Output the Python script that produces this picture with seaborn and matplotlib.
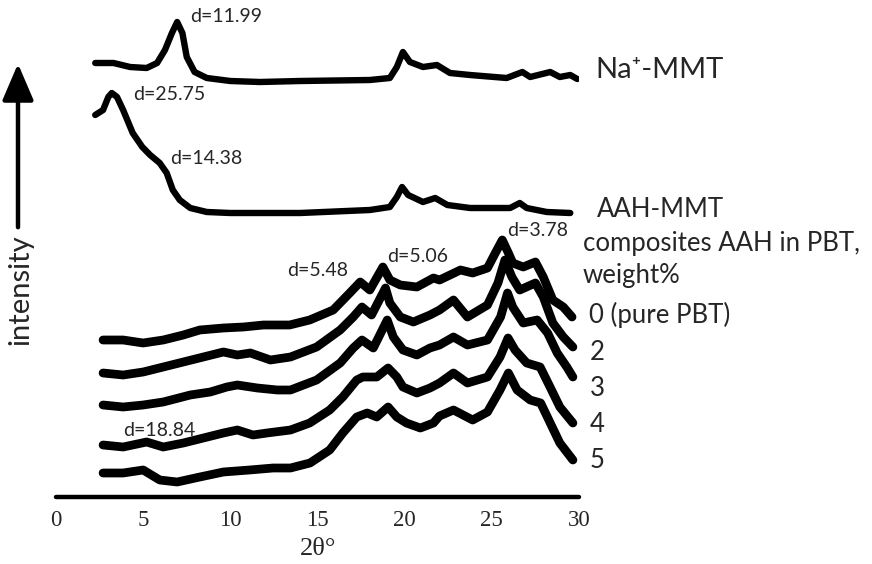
import numpy as np
import pandas as pd
import matplotlib
matplotlib.use("Agg")
import matplotlib.pyplot as plt
import seaborn as sns

# ---- XRD patterns (2θ in degrees, intensity in arbitrary stacked units) ----
na_x = [2.25, 3.3, 4.25, 5.2, 5.8, 6.25, 6.65, 6.95, 7.25, 7.5, 7.95, 8.65, 10.0, 11.7,
        14.0, 18.0, 19.15, 19.55, 19.9, 20.3, 21.05, 21.85, 22.6, 23.75, 25.85, 26.75,
        27.2, 28.35, 28.9, 29.5, 29.9]
na_y = [437, 437, 433, 432, 437, 450, 467, 478, 467, 443, 428, 422, 419, 418,
        419, 420, 422, 433, 448, 438, 433, 435, 427, 425, 422, 428,
        423, 428, 423, 425, 421]

aah_x = [2.25, 2.7, 3.0, 3.2, 3.5, 3.85, 4.4, 4.95, 5.4, 5.95, 6.35, 6.7, 7.1, 7.7, 8.65,
         10.0, 14.0, 18.0, 19.15, 19.55, 19.85, 20.2, 21.05, 21.75, 22.45, 23.75, 26.05,
         26.6, 27.0, 28.15, 29.5]
aah_y = [385, 390, 403, 407, 403, 390, 367, 353, 345, 337, 327, 310, 300, 292, 288,
         287, 287, 290, 293, 303, 313, 305, 298, 302, 295, 292, 292,
         297, 292, 288, 287]

pbt0_x = [2.7, 3.85, 5.0, 6.15, 7.3, 8.25, 9.6, 10.75, 11.9, 13.4, 14.55, 15.9, 16.85,
          17.45, 18.0, 18.75, 19.15, 19.75, 20.7, 21.65, 22.0, 23.2, 23.9, 24.75, 25.2,
          25.6, 25.95, 26.2, 26.8, 27.5, 27.95, 28.5, 29.1, 29.6]
pbt0_y = [160, 160, 157, 160, 165, 170, 172, 173, 175, 175, 180, 190, 207,
          218, 210, 233, 220, 215, 213, 222, 220, 230, 227, 232, 247,
          260, 247, 237, 233, 238, 223, 200, 193, 183]

pbt2_x = [2.7, 3.85, 5.0, 6.15, 7.3, 8.45, 9.6, 10.4, 11.15, 12.3, 13.45, 14.95, 16.3,
          17.05, 17.55, 18.1, 18.9, 19.15, 19.75, 20.5, 21.45, 22.0, 22.8, 23.6, 24.75,
          25.35, 25.75, 26.15, 26.6, 27.5, 27.95, 28.5, 29.1, 29.65]
pbt2_y = [127, 125, 128, 133, 138, 143, 148, 145, 147, 140, 143, 153, 170,
          183, 193, 185, 212, 197, 183, 178, 185, 190, 200, 183, 195,
          217, 240, 223, 210, 217, 203, 177, 163, 153]

pbt3_x = [2.7, 3.85, 5.0, 6.15, 7.7, 8.85, 9.8, 10.4, 11.55, 12.7, 13.45, 14.95, 16.3,
          17.05, 17.55, 18.2, 19.0, 19.35, 19.9, 20.7, 21.45, 22.0, 22.8, 23.6, 24.75,
          25.5, 25.9, 26.2, 26.8, 27.6, 28.2, 28.75, 29.3, 29.65]
pbt3_y = [95, 93, 95, 98, 105, 108, 113, 115, 112, 110, 110, 120, 137,
          152, 160, 152, 180, 163, 150, 145, 152, 155, 163, 155, 160,
          183, 207, 193, 177, 180, 167, 147, 133, 123]

pbt4_x = [2.7, 3.85, 5.2, 6.15, 7.3, 8.45, 9.6, 10.4, 11.3, 12.1, 13.45, 14.55, 15.7,
          16.45, 17.25, 17.6, 18.4, 19.05, 19.55, 19.9, 20.7, 21.45, 22.0, 22.8, 23.6,
          24.75, 25.47, 25.93, 26.33, 27.0, 27.77, 28.34, 28.9, 29.65]
pbt4_y = [55, 53, 58, 53, 57, 62, 67, 70, 65, 67, 70, 77, 90,
          103, 120, 123, 123, 132, 123, 113, 107, 112, 117, 127, 117,
          123, 143, 162, 150, 137, 133, 113, 93, 77]

pbt5_x = [2.7, 3.85, 5.0, 5.95, 6.95, 8.25, 9.6, 11.1, 12.45, 13.45, 14.57, 15.7, 16.45,
          17.25, 17.85, 18.4, 19.05, 19.55, 20.1, 20.9, 21.65, 22.0, 22.8, 23.9, 24.75,
          25.47, 25.95, 26.45, 27.2, 27.8, 28.35, 28.9, 29.65]
pbt5_y = [27, 27, 30, 20, 18, 23, 28, 30, 32, 32, 37, 50, 67,
          83, 87, 83, 93, 83, 77, 72, 77, 84, 90, 80, 88,
          110, 127, 110, 100, 97, 77, 57, 40]

x_ticks = [0, 5, 10, 15, 20, 25, 30]

W, H = 872, 564
sns.set_theme(style="white")
plt.rcParams["font.family"] = ["Lato", "DejaVu Sans"]

fig = plt.figure(figsize=(W / 100, H / 100), dpi=100)
ax = fig.add_axes([56 / W, (H - 497) / H, (579 - 56) / W, 497 / H])

thin = 4.6
thick = 6.3
series = [
    (na_x, na_y, thin),
    (aah_x, aah_y, thin),
    (pbt0_x, pbt0_y, thick),
    (pbt2_x, pbt2_y, thick),
    (pbt3_x, pbt3_y, thick),
    (pbt4_x, pbt4_y, thick),
    (pbt5_x, pbt5_y, thick),
]
for xs, ys, lw in series:
    df = pd.DataFrame({"two_theta": xs, "intensity": ys})
    sns.lineplot(data=df, x="two_theta", y="intensity", ax=ax, color="black",
                 linewidth=lw, solid_capstyle="round", solid_joinstyle="round")

ax.set_xlim(0, 30)
ax.set_ylim(3, 500)
ax.set_xticks(x_ticks)
ax.set_xticklabels([str(t) for t in x_ticks], fontfamily="Liberation Serif", fontsize=16.5)
ax.set_yticks([])
ax.set_xlabel("")
ax.set_ylabel("")
for side in ["top", "right", "left"]:
    ax.spines[side].set_visible(False)
ax.spines["bottom"].set_linewidth(3.2)
ax.spines["bottom"].set_color("black")
ax.spines["bottom"].set_capstyle("round")
ax.tick_params(axis="x", direction="out", length=5, width=3.0, color="black", pad=4)
ax.patch.set_alpha(0)


def put(px, py, s, size, **kw):
    fig.text(px / W, 1 - py / H, s, fontsize=size, va="center", ha=kw.pop("ha", "left"), **kw)


put(318, 549, "2θ°", 19, ha="center", fontfamily="Liberation Serif")

# peak annotations
for px, py, s in [(190, 16, "d=11.99"), (133, 95, "d=25.75"), (170, 158, "d=14.38"),
                  (287, 270, "d=5.48"), (387, 256, "d=5.06"), (507, 230, "d=3.78"),
                  (123, 430, "d=18.84")]:
    put(px, py, s, 14)

# curve labels
label_size = 18.5
put(595, 70, "Na⁺-MMT", 21)
put(597, 209, "AAH-MMT", label_size)
put(583, 243, "composites AAH in PBT,", label_size)
put(583, 276, "weight%", label_size)
put(589, 315, "0 (pure PBT)", label_size)
for py, s in [(352, "2"), (388, "3"), (425, "4"), (461, "5")]:
    put(590, py, s, label_size)

# intensity arrow
fig.patches.append(matplotlib.patches.FancyArrowPatch(
    (18 / W, 1 - 230 / H), (18 / W, 1 - 61 / H), transform=fig.transFigure,
    arrowstyle="-|>,head_length=1.4,head_width=0.6", mutation_scale=16,
    linewidth=3.2, color="black"))
put(20, 290, "intensity", 21, ha="center", rotation=90)

fig.savefig("out.png", dpi=100)
